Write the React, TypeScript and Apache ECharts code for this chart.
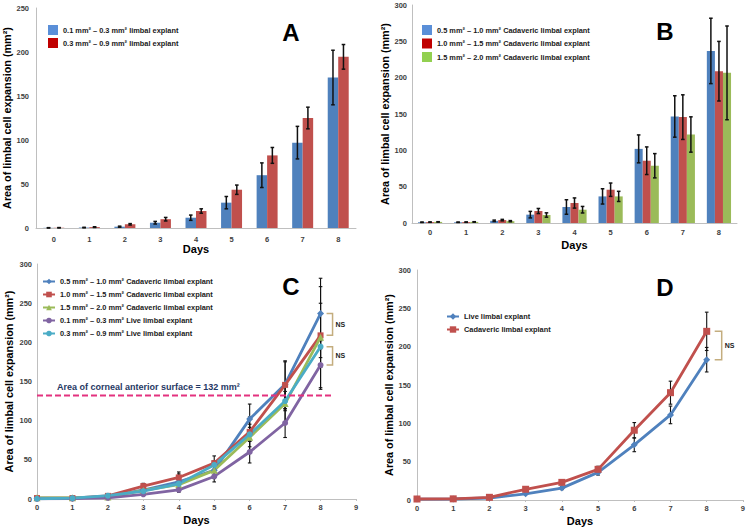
import React, { useEffect, useRef } from "react";
import * as echarts from "echarts";

// ---------- data ----------
const dayLabels = ["0", "1", "2", "3", "4", "5", "6", "7", "8"];
const days = [0, 1, 2, 3, 4, 5, 6, 7, 8];
const xTicksCD = ["0", "1", "2", "3", "4", "5", "6", "7", "8", "9"];

// Panel A – live explants by size
const nameLiveSmall = "0.1 mm² – 0.3 mm² limbal explant";
const nameLiveLarge = "0.3 mm² – 0.9 mm² limbal explant";
const liveSmall = [0.2, 0.5, 1.5, 6, 11.7, 28.8, 60, 97, 171];
const liveSmallErr = [0.2, 0.3, 0.6, 1.5, 3, 7, 14, 18.5, 31];
const liveLarge = [0.3, 1, 4.2, 10, 19.3, 43.5, 82.5, 125, 194.5];
const liveLargeErr = [0.2, 0.4, 0.8, 2, 2.5, 5.3, 9, 12.3, 14];

// Panel B – cadaveric explants by size
const nameCad1 = "0.5 mm² – 1.0 mm² Cadaveric limbal explant";
const nameCad2 = "1.0 mm² – 1.5 mm² Cadaveric limbal explant";
const nameCad3 = "1.5 mm² – 2.0 mm² Cadaveric limbal explant";
const cad1 = [1, 1, 3, 11.5, 22, 36.6, 102, 146.6, 236.8];
const cad1Err = [0.3, 0.3, 1, 4.5, 10, 10.5, 19.2, 28.5, 45];
const cad2 = [1.2, 1.2, 4, 16.5, 27.5, 45.8, 85.7, 145.7, 208.9];
const cad2Err = [0.3, 0.3, 1, 3.5, 7, 9.2, 19, 30.7, 41];
const cad3 = [1.5, 1.5, 2.5, 11, 18.3, 36.6, 78.8, 121.8, 206.6];
const cad3Err = [0.3, 0.3, 0.8, 3, 4.5, 7, 16.7, 24.3, 64.5];

// Panel C – names of live series
const nameLiveSmallC = "0.1 mm² – 0.3 mm² Live limbal explant";
const nameLiveLargeC = "0.3 mm² – 0.9 mm² Live limbal explant";
const cornealArea = 132;
const cornealLineDays = [0, 8.35];
const cornealLabel = "Area of corneal anterior surface = 132 mm²";

// Panel D – live vs cadaveric
const nameLiveAll = "Live limbal explant";
const nameCadAll = "Cadaveric limbal explant";
const liveAll = [1.2, 1.3, 2.6, 8, 15.5, 36, 72, 111, 183];
const liveAllErr = [0.3, 0.3, 0.5, 1, 2, 3.5, 9, 11.5, 16];
const cadAll = [1.3, 1.5, 3.5, 14, 23, 40, 91, 140, 220];
const cadAllErr = [0.3, 0.3, 0.6, 1.5, 3, 4, 10, 15, 25];

const yTitle = "Area of limbal cell expansion (mm²)";

// ---------- styles ----------
const BLUE = "#4f81bd";
const RED = "#c0504d";
const GREEN = "#9bbb59";
const PURPLE = "#8064a2";
const CYAN = "#4bacc6";
const FONT = "'Liberation Sans', Arial, sans-serif";

const errData = (vals: number[], errs: number[], useIndex: boolean) =>
  vals.map((v, i) => [useIndex ? i : days[i], Math.max(0, v - errs[i]), v + errs[i]]);
const lineData = (vals: number[]) => vals.map((v, i) => [days[i], v]);

const barErr = (n: number, idx: number, gap: number) => (_p: any, api: any) => {
  const i = api.value(0);
  const lo = api.value(1);
  const hi = api.value(2);
  const band = api.size([1, 0])[0];
  const group = band * (1 - gap);
  const bw = group / n;
  const p0 = api.coord([i, lo]);
  const p1 = api.coord([i, hi]);
  const x = p0[0] - group / 2 + (idx + 0.5) * bw;
  const cap = 1.8;
  const style = { stroke: "#111", lineWidth: 1.5 };
  return {
    type: "group",
    children: [
      { type: "line", shape: { x1: x, y1: p1[1], x2: x, y2: p0[1] }, style },
      { type: "line", shape: { x1: x - cap, y1: p1[1], x2: x + cap, y2: p1[1] }, style },
      { type: "line", shape: { x1: x - cap, y1: p0[1], x2: x + cap, y2: p0[1] }, style },
    ],
  };
};

const lineErr = (_p: any, api: any) => {
  const x = api.value(0);
  const p0 = api.coord([x, api.value(1)]);
  const p1 = api.coord([x, api.value(2)]);
  const cap = 1.8;
  const style = { stroke: "#111", lineWidth: 1.1 };
  return {
    type: "group",
    children: [
      { type: "line", shape: { x1: p0[0], y1: p1[1], x2: p0[0], y2: p0[1] }, style },
      { type: "line", shape: { x1: p0[0] - cap, y1: p1[1], x2: p0[0] + cap, y2: p1[1] }, style },
      { type: "line", shape: { x1: p0[0] - cap, y1: p0[1], x2: p0[0] + cap, y2: p0[1] }, style },
    ],
  };
};

const bracket = (dx1: number, dx2: number) => (_p: any, api: any) => {
  const x = api.value(0);
  const pa = api.coord([x, api.value(1)]);
  const pb = api.coord([x, api.value(2)]);
  const x1 = pa[0] + dx1;
  const x2 = pa[0] + dx2;
  return {
    type: "group",
    children: [
      {
        type: "polyline",
        shape: { points: [[x1, pa[1]], [x2, pa[1]], [x2, pb[1]], [x1, pb[1]]] },
        style: { stroke: "#c4ad7e", lineWidth: 1.5, fill: null },
      },
      {
        type: "text",
        x: x2 + 3,
        y: (pa[1] + pb[1]) / 2,
        style: { text: "NS", fontSize: 7, fontWeight: "bold", fill: "#222", align: "left", verticalAlign: "middle", fontFamily: FONT },
      },
    ],
  };
};

const axisLabel = (margin: number) => ({ fontSize: 7.5, fontWeight: "bold", color: "#404040", margin });
const axisLine = { show: true, lineStyle: { color: "#bfbfbf", width: 1 } };
const nameStyleY = { fontSize: 10.8, fontWeight: "bold", color: "#000" };
const nameStyleX = { fontSize: 11, fontWeight: "bold", color: "#000" };
const legendText = { fontSize: 7.4, fontWeight: "bold", color: "#1a1a1a" };
const fmt = (n: string) => n.split("|")[1];

export default function App() {
  const ref = useRef<HTMLDivElement>(null);
  useEffect(() => {
    if (!ref.current) return;
    const chart = echarts.init(ref.current, undefined, { renderer: "svg" });

    const option: any = {
      animation: false,
      backgroundColor: "#fff",
      textStyle: { fontFamily: FONT },
      grid: [
        { left: 36, top: 8, width: 320, height: 220 },
        { left: 412, top: 5, width: 325, height: 218 },
        { left: 37, top: 264, width: 319, height: 235 },
        { left: 417, top: 270, width: 326, height: 230 },
      ],
      xAxis: [
        {
          type: "category", gridIndex: 0, data: dayLabels, axisTick: { show: false }, axisLine,
          axisLabel: axisLabel(7), name: "Days", nameLocation: "middle", nameGap: 15, nameTextStyle: nameStyleX,
        },
        {
          type: "category", gridIndex: 1, data: dayLabels, axisTick: { show: false }, axisLine,
          axisLabel: axisLabel(5), name: "Days", nameLocation: "middle", nameGap: 16, nameTextStyle: nameStyleX,
        },
        {
          type: "value", gridIndex: 2, min: 0, max: 9, interval: 1, splitLine: { show: false }, axisLine,
          axisTick: { show: true, length: 2, lineStyle: { color: "#bfbfbf" } },
          axisLabel: { ...axisLabel(4), formatter: (v: number) => xTicksCD[v] },
          name: "Days", nameLocation: "middle", nameGap: 15, nameTextStyle: nameStyleX,
        },
        {
          type: "value", gridIndex: 3, min: 0, max: 9, interval: 1, splitLine: { show: false }, axisLine,
          axisTick: { show: true, length: 2, lineStyle: { color: "#bfbfbf" } },
          axisLabel: { ...axisLabel(4), formatter: (v: number) => xTicksCD[v] },
          name: "Days", nameLocation: "middle", nameGap: 15, nameTextStyle: nameStyleX,
        },
      ],
      yAxis: [
        {
          type: "value", gridIndex: 0, min: 0, max: 250, interval: 50, splitLine: { show: false }, axisLine,
          axisTick: { show: false }, axisLabel: axisLabel(7),
          name: yTitle, nameLocation: "middle", nameGap: 22, nameTextStyle: nameStyleY,
        },
        {
          type: "value", gridIndex: 1, min: 0, max: 300, interval: 50, splitLine: { show: false }, axisLine,
          axisTick: { show: false }, axisLabel: axisLabel(5),
          name: yTitle, nameLocation: "middle", nameGap: 19, nameTextStyle: nameStyleY,
        },
        {
          type: "value", gridIndex: 2, min: 0, max: 300, interval: 50, splitLine: { show: false }, axisLine,
          axisTick: { show: false }, axisLabel: axisLabel(5),
          name: yTitle, nameLocation: "middle", nameGap: 23, nameTextStyle: nameStyleY,
        },
        {
          type: "value", gridIndex: 3, min: 0, max: 300, interval: 50, splitLine: { show: false }, axisLine,
          axisTick: { show: false }, axisLabel: axisLabel(6),
          name: yTitle, nameLocation: "middle", nameGap: 21, nameTextStyle: nameStyleY,
        },
      ],
      legend: [
        {
          orient: "vertical", left: 48, top: 25, padding: 0, itemWidth: 10, itemHeight: 10, itemGap: 3,
          icon: "rect", selectedMode: false, textStyle: legendText, formatter: fmt,
          data: [
            { name: "A|" + nameLiveSmall, itemStyle: { color: "#5a8fd8" } },
            { name: "A|" + nameLiveLarge, itemStyle: { color: "#c00000" } },
          ],
        },
        {
          orient: "vertical", left: 422, top: 25, padding: 0, itemWidth: 10, itemHeight: 10, itemGap: 3.5,
          icon: "rect", selectedMode: false, textStyle: legendText, formatter: fmt,
          data: [
            { name: "B|" + nameCad1, itemStyle: { color: "#5a8fd8" } },
            { name: "B|" + nameCad2, itemStyle: { color: "#c00000" } },
            { name: "B|" + nameCad3, itemStyle: { color: "#92d050" } },
          ],
        },
        {
          orient: "vertical", left: 42, top: 278, padding: 0, itemWidth: 12, itemHeight: 7, itemGap: 6,
          selectedMode: false, textStyle: legendText, formatter: fmt,
          data: ["C|" + nameCad1, "C|" + nameCad2, "C|" + nameCad3, "C|" + nameLiveSmallC, "C|" + nameLiveLargeC],
        },
        {
          orient: "vertical", left: 446, top: 313, padding: 0, itemWidth: 12, itemHeight: 8, itemGap: 6,
          selectedMode: false, textStyle: legendText, formatter: fmt,
          data: ["D|" + nameLiveAll, "D|" + nameCadAll],
        },
      ],
      graphic: [
        { type: "text", x: 291, y: 32, style: { text: "A", fontSize: 24, fontWeight: "bold", fill: "#000", align: "center", verticalAlign: "middle", fontFamily: FONT } },
        { type: "text", x: 665, y: 31, style: { text: "B", fontSize: 24, fontWeight: "bold", fill: "#000", align: "center", verticalAlign: "middle", fontFamily: FONT } },
        { type: "text", x: 291, y: 286, style: { text: "C", fontSize: 24, fontWeight: "bold", fill: "#000", align: "center", verticalAlign: "middle", fontFamily: FONT } },
        { type: "text", x: 665, y: 287, style: { text: "D", fontSize: 24, fontWeight: "bold", fill: "#000", align: "center", verticalAlign: "middle", fontFamily: FONT } },
        { type: "text", x: 57, y: 387, style: { text: cornealLabel, fontSize: 9, fontWeight: "bold", fill: "#1f3864", align: "left", verticalAlign: "middle", fontFamily: FONT } },
      ],
      series: [] as any[],
    };

    const S = option.series;
    // Panel A bars
    const barA = { type: "bar", xAxisIndex: 0, yAxisIndex: 0, barGap: "0%", barCategoryGap: "41%" };
    S.push({ ...barA, name: "A|" + nameLiveSmall, data: liveSmall, itemStyle: { color: BLUE } });
    S.push({ ...barA, name: "A|" + nameLiveLarge, data: liveLarge, itemStyle: { color: RED } });
    S.push({ type: "custom", xAxisIndex: 0, yAxisIndex: 0, renderItem: barErr(2, 0, 0.41), data: errData(liveSmall, liveSmallErr, true), encode: { x: 0, y: [1, 2] }, z: 5 });
    S.push({ type: "custom", xAxisIndex: 0, yAxisIndex: 0, renderItem: barErr(2, 1, 0.41), data: errData(liveLarge, liveLargeErr, true), encode: { x: 0, y: [1, 2] }, z: 5 });

    // Panel B bars
    const barB = { type: "bar", xAxisIndex: 1, yAxisIndex: 1, barGap: "0%", barCategoryGap: "33%" };
    S.push({ ...barB, name: "B|" + nameCad1, data: cad1, itemStyle: { color: BLUE } });
    S.push({ ...barB, name: "B|" + nameCad2, data: cad2, itemStyle: { color: RED } });
    S.push({ ...barB, name: "B|" + nameCad3, data: cad3, itemStyle: { color: GREEN } });
    [[cad1, cad1Err], [cad2, cad2Err], [cad3, cad3Err]].forEach(([v, e], i) =>
      S.push({ type: "custom", xAxisIndex: 1, yAxisIndex: 1, renderItem: barErr(3, i, 0.33), data: errData(v, e, true), encode: { x: 0, y: [1, 2] }, z: 5 })
    );

    // Panel C lines
    const lineC = { type: "line", xAxisIndex: 2, yAxisIndex: 2, z: 3 };
    const cSeries: [string, number[], number[], string, string, number][] = [
      [nameCad1, cad1, cad1Err, BLUE, "diamond", 7],
      [nameCad2, cad2, cad2Err, RED, "rect", 6],
      [nameCad3, cad3, cad3Err, GREEN, "triangle", 7],
      [nameLiveSmallC, liveSmall, liveSmallErr, PURPLE, "circle", 6],
      [nameLiveLargeC, liveLarge, liveLargeErr, CYAN, "circle", 6],
    ];
    cSeries.forEach(([, v, e]) => {
      S.push({ type: "custom", xAxisIndex: 2, yAxisIndex: 2, renderItem: lineErr, data: errData(v, e, false), encode: { x: 0, y: [1, 2] }, z: 2 });
    });
    cSeries.forEach(([n, v, , c, sym, sz]) => {
      S.push({ ...lineC, name: "C|" + n, data: lineData(v), symbol: sym, symbolSize: sz, itemStyle: { color: c }, lineStyle: { width: 2.8, color: c } });
    });
    S.push({
      type: "line", xAxisIndex: 2, yAxisIndex: 2, symbol: "none", z: 4,
      data: cornealLineDays.map((d) => [d, cornealArea]),
      lineStyle: { color: "#e3327f", width: 2, type: [6, 3] },
    });
    S.push({
      type: "custom", xAxisIndex: 2, yAxisIndex: 2, renderItem: bracket(6, 12), z: 6,
      data: [[days[8], cad1[8], cad2[8]], [days[8], liveLarge[8], liveSmall[8]]], encode: { x: 0, y: [1, 2] },
    });

    // Panel D lines
    S.push({ type: "custom", xAxisIndex: 3, yAxisIndex: 3, renderItem: lineErr, data: errData(liveAll, liveAllErr, false), encode: { x: 0, y: [1, 2] }, z: 2 });
    S.push({ type: "custom", xAxisIndex: 3, yAxisIndex: 3, renderItem: lineErr, data: errData(cadAll, cadAllErr, false), encode: { x: 0, y: [1, 2] }, z: 2 });
    S.push({ type: "line", xAxisIndex: 3, yAxisIndex: 3, z: 3, name: "D|" + nameLiveAll, data: lineData(liveAll), symbol: "diamond", symbolSize: 7, itemStyle: { color: BLUE }, lineStyle: { width: 2.8, color: BLUE } });
    S.push({ type: "line", xAxisIndex: 3, yAxisIndex: 3, z: 3, name: "D|" + nameCadAll, data: lineData(cadAll), symbol: "rect", symbolSize: 7, itemStyle: { color: RED }, lineStyle: { width: 2.8, color: RED } });
    S.push({
      type: "custom", xAxisIndex: 3, yAxisIndex: 3, renderItem: bracket(8, 15), z: 6,
      data: [[days[8], cadAll[8], liveAll[8]]], encode: { x: 0, y: [1, 2] },
    });

    chart.setOption(option);
    return () => chart.dispose();
  }, []);

  return (
    <div
      ref={ref}
      style={{ position: "fixed", left: 0, top: 0, width: 748, height: 529, background: "#fff" }}
    />
  );
}
